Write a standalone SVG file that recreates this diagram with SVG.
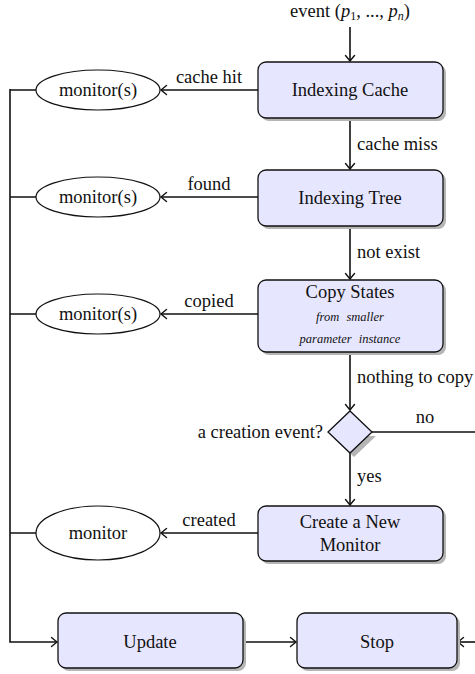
<svg xmlns="http://www.w3.org/2000/svg" width="475" height="674" viewBox="0 0 475 674" font-family="Liberation Serif, Times New Roman, Tinos, Noto Serif, DejaVu Serif, FreeSerif, serif">
  <style>
    text { font-family: "Liberation Serif", "Times New Roman", Tinos, "Noto Serif", "DejaVu Serif", FreeSerif, serif; font-size: 18.5px; fill: #111; }
    .mid { text-anchor: middle; }
    .end { text-anchor: end; }
    .it { font-style: italic; }
    .small { font-size: 12.5px; font-style: italic; word-spacing: 4px; }
    .box { fill: #e6e6ff; stroke: #111; stroke-width: 1.3; }
    .shadow { fill: #b5b5b5; }
    .ell { fill: #fff; stroke: #111; stroke-width: 1.2; }
    .wire { fill: none; stroke: #111; stroke-width: 1.6; }
    .arrow { marker-end: url(#tip); }
  </style>
  <defs>
    <marker id="tip" viewBox="-8 -6 10 12" markerWidth="10" markerHeight="12" refX="0" refY="0" orient="auto" markerUnits="userSpaceOnUse">
      <path d="M-5.5,-4.5 Q-1.5,-1.2 0,0 Q-1.5,1.2 -5.5,4.5" fill="none" stroke="#111" stroke-width="1.4" stroke-linecap="round"/>
    </marker>
  </defs>

  <rect width="475" height="674" fill="#fff"/>

  <!-- connectors -->
  <g id="connectors">
    <path class="wire arrow" d="M350,27 L350,61"/>
    <path class="wire arrow" d="M350,118 L350,169"/>
    <path class="wire arrow" d="M350,226 L350,279"/>
    <path class="wire arrow" d="M350,352 L350,410"/>
    <path class="wire arrow" d="M350,453 L350,505"/>
    <path class="wire arrow" d="M258,90 L161,90"/>
    <path class="wire arrow" d="M258,197 L161,197"/>
    <path class="wire arrow" d="M258,314 L161,314"/>
    <path class="wire arrow" d="M258,533 L161,533"/>
    <path class="wire" d="M36,90 L10,90 M36,197 L10,197 M36,314 L10,314 M36,533 L10,533"/>
    <path class="wire arrow" d="M10,89 L10,642 L57,642"/>
    <path class="wire arrow" d="M243,642 L296,642"/>
    <path class="wire" d="M372,432 L478,432 L478,642"/>
    <path class="wire arrow" d="M478,642 L458,642"/>

    <text x="350" y="17" class="mid">event (<tspan class="it">p</tspan><tspan font-size="12" dy="3">1</tspan><tspan dy="-3">, ..., </tspan><tspan class="it">p</tspan><tspan font-size="12" class="it" dy="3">n</tspan><tspan dy="-3">)</tspan></text>
    <text x="357" y="150">cache miss</text>
    <text x="357" y="258">not exist</text>
    <text x="357" y="383">nothing to copy</text>
    <text x="357" y="482">yes</text>
    <text x="425" y="423" class="mid">no</text>
    <text x="209" y="83" class="mid">cache hit</text>
    <text x="209" y="190" class="mid">found</text>
    <text x="209" y="307" class="mid">copied</text>
    <text x="209" y="526" class="mid">created</text>
  </g>

  <g id="indexing-cache">
    <rect class="shadow" x="261" y="65" width="185" height="56" rx="8"/>
    <rect class="box" x="258" y="62" width="185" height="56" rx="8"/>
    <text x="350" y="96" class="mid">Indexing Cache</text>
  </g>

  <g id="indexing-tree">
    <rect class="shadow" x="261" y="173" width="185" height="56" rx="8"/>
    <rect class="box" x="258" y="170" width="185" height="56" rx="8"/>
    <text x="350" y="204" class="mid">Indexing Tree</text>
  </g>

  <g id="copy-states">
    <rect class="shadow" x="261" y="283" width="185" height="72" rx="8"/>
    <rect class="box" x="258" y="280" width="185" height="72" rx="8"/>
    <text x="350" y="298" class="mid">Copy States</text>
    <text x="350" y="321" class="mid small">from smaller</text>
    <text x="350" y="343" class="mid small">parameter instance</text>
  </g>

  <g id="creation-check">
    <path class="shadow" d="M376,436 L354,457 L332,436 Z"/>
    <path class="box" d="M350,411 L372,432 L350,453 L328,432 Z"/>
    <text x="323" y="438" class="end">a creation event?</text>
  </g>

  <g id="create-monitor">
    <rect class="shadow" x="261" y="509" width="185" height="55" rx="8"/>
    <rect class="box" x="258" y="506" width="185" height="55" rx="8"/>
    <text x="350" y="528" class="mid">Create a New</text>
    <text x="350" y="551" class="mid">Monitor</text>
  </g>

  <g id="update">
    <rect class="shadow" x="61" y="616" width="185" height="55" rx="8"/>
    <rect class="box" x="58" y="613" width="185" height="55" rx="8"/>
    <text x="150" y="648" class="mid">Update</text>
  </g>

  <g id="stop">
    <rect class="shadow" x="300" y="616" width="160" height="55" rx="8"/>
    <rect class="box" x="297" y="613" width="160" height="55" rx="8"/>
    <text x="377" y="648" class="mid">Stop</text>
  </g>

  <g id="monitors-cached">
    <ellipse class="ell" cx="98" cy="90" rx="62" ry="20"/>
    <text x="98" y="96" class="mid">monitor(s)</text>
  </g>

  <g id="monitors-found">
    <ellipse class="ell" cx="98" cy="197" rx="62" ry="20"/>
    <text x="98" y="203" class="mid">monitor(s)</text>
  </g>

  <g id="monitors-copied">
    <ellipse class="ell" cx="98" cy="314" rx="62" ry="20"/>
    <text x="98" y="320" class="mid">monitor(s)</text>
  </g>

  <g id="monitor-created">
    <ellipse class="ell" cx="98" cy="533" rx="62" ry="27"/>
    <text x="98" y="539" class="mid">monitor</text>
  </g>
</svg>
